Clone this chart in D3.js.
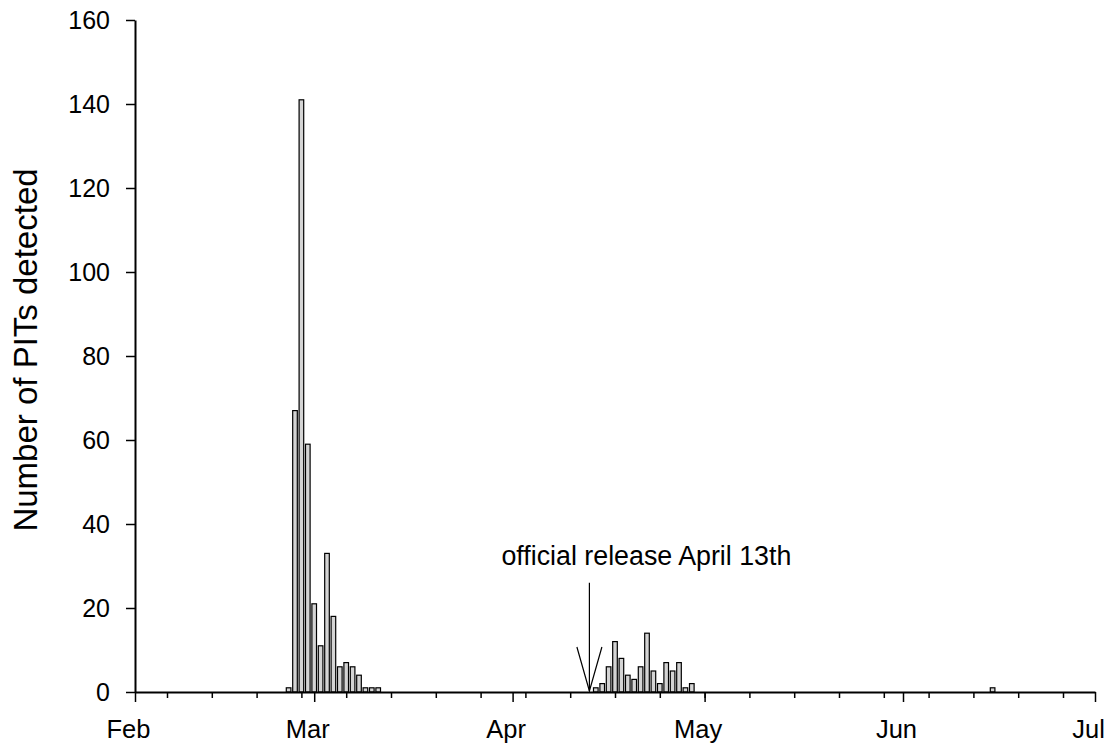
<!DOCTYPE html>
<html>
<head>
<meta charset="utf-8">
<script src="https://cdn.jsdelivr.net/npm/d3@7/dist/d3.min.js"></script>
<style>
  body { margin: 0; background: #fff; }
  svg { display: block; font-family: "Liberation Sans", Arial, sans-serif; }
  .axis path, .axis line { stroke: #000; }
  .axis text { fill: #000; }
</style>
</head>
<body>
<div id="chart"></div>
<script>
// daily PIT detections
const dates = [
    '2007-02-25', '2007-02-26', '2007-02-27', '2007-02-28', '2007-03-01',
    '2007-03-02', '2007-03-03', '2007-03-04', '2007-03-05', '2007-03-06',
    '2007-03-07', '2007-03-08', '2007-03-09', '2007-03-10', '2007-03-11',
    '2007-04-14', '2007-04-15', '2007-04-16', '2007-04-17', '2007-04-18',
    '2007-04-19', '2007-04-20', '2007-04-21', '2007-04-22', '2007-04-23',
    '2007-04-24', '2007-04-25', '2007-04-26', '2007-04-27', '2007-04-28',
    '2007-04-29', '2007-06-15'
];
const counts = [
    1, 67, 141, 59, 21,
    11, 33, 18, 6, 7,
    6, 4, 1, 1, 1,
    1, 2, 6, 12, 8,
    4, 3, 6, 14, 5,
    2, 7, 5, 7, 1,
    2, 1
];
const yTicks = [0, 20, 40, 60, 80, 100, 120, 140, 160];
const xStart = '2007-02-01';
const xEnd = '2007-07-01';
const releaseDate = '2007-04-13';
const releaseText = 'official release April 13th';
const yTitle = 'Number of PITs detected';

const width = 1108;
const height = 749;
const margin = { top: 20, right: 13, bottom: 57, left: 135 };

const parse = d3.utcParse('%Y-%m-%d');
const data = dates.map((d, i) => ({ date: parse(d), value: counts[i] }));

const svg = d3.select('#chart').append('svg')
    .attr('width', width)
    .attr('height', height);

const x = d3.scaleUtc()
    .domain([parse(xStart), parse(xEnd)])
    .range([margin.left, width - margin.right]);

const y = d3.scaleLinear()
    .domain([0, 160])
    .range([height - margin.bottom, margin.top]);

const dayW = x(d3.utcDay.offset(parse(xStart), 1)) - x(parse(xStart));
const barW = dayW * 0.72;

// bars
svg.selectAll('rect.bar')
    .data(data)
    .enter()
    .append('rect')
    .attr('class', 'bar')
    .attr('x', d => x(d.date) - barW / 2)
    .attr('width', barW)
    .attr('y', d => y(d.value))
    .attr('height', d => y(0) - y(d.value))
    .style('fill', '#d4d4d4')
    .style('stroke', '#000')
    .style('stroke-width', 1.2);

// minor ticks, weekly
const minorAxis = d3.axisBottom(x)
    .tickValues(d3.utcTuesday.range(parse(xStart), parse(xEnd)))
    .tickSize(6)
    .tickSizeOuter(0)
    .tickFormat('');

svg.append('g')
    .attr('class', 'axis')
    .attr('transform', `translate(0, ${y(0)})`)
    .call(minorAxis)
    .call(g => g.select('.domain').remove())
    .selectAll('line')
    .style('stroke-width', 1.5);

// month ticks
const xAxis = d3.axisBottom(x)
    .ticks(d3.utcMonth.every(1))
    .tickSize(10)
    .tickSizeOuter(0)
    .tickPadding(18)
    .tickFormat(d3.utcFormat('%b'));

const gx = svg.append('g')
    .attr('class', 'axis')
    .attr('transform', `translate(0, ${y(0)})`)
    .call(xAxis);
gx.select('.domain').style('stroke-width', 2);
gx.selectAll('.tick line').style('stroke-width', 1.5);
gx.selectAll('.tick text')
    .attr('dx', -7)
    .style('font-size', '25.5px')
    .style('font-family', '"Liberation Sans", Arial, sans-serif');

const yAxis = d3.axisLeft(y)
    .tickValues(yTicks)
    .tickSize(9)
    .tickSizeOuter(0)
    .tickPadding(16);

const gy = svg.append('g')
    .attr('class', 'axis')
    .attr('transform', `translate(${margin.left}, 0)`)
    .call(yAxis);
gy.select('.domain').style('stroke-width', 2);
gy.selectAll('.tick line').style('stroke-width', 1.5);
gy.selectAll('.tick text')
    .style('font-size', '25px')
    .style('font-family', '"Liberation Sans", Arial, sans-serif');

svg.append('text')
    .attr('transform', `translate(37, ${(y(0) + y(160)) / 2 - 6}) rotate(-90)`)
    .attr('text-anchor', 'middle')
    .style('font-size', '33px')
    .style('fill', '#000')
    .text(yTitle);

// release arrow
const rx = x(parse(releaseDate));
const tip = y(0) - 1;
svg.append('line')
    .attr('x1', rx).attr('x2', rx)
    .attr('y1', y(26)).attr('y2', tip)
    .style('stroke', '#000')
    .style('stroke-width', 1.2);
svg.append('path')
    .attr('d', `M${rx - 12.5},${tip - 44} L${rx},${tip} L${rx + 12.5},${tip - 44}`)
    .style('fill', 'none')
    .style('stroke', '#000')
    .style('stroke-width', 1.2);

svg.append('text')
    .attr('x', rx - 88)
    .attr('y', 565)
    .style('font-size', '26.8px')
    .style('fill', '#000')
    .text(releaseText);
</script>
</body>
</html>
